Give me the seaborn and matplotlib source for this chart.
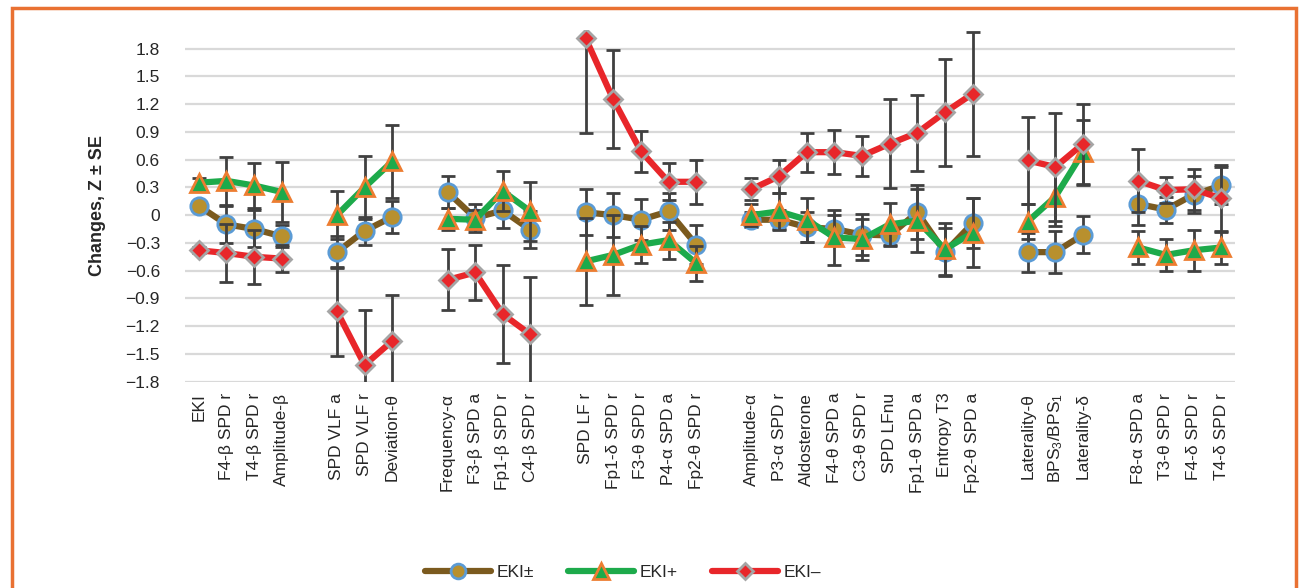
import numpy as np
import pandas as pd
import seaborn as sns
import matplotlib.pyplot as plt
from matplotlib.lines import Line2D
from matplotlib.patches import Rectangle

# ---------------- data ----------------
groups = [
    ["EKI", "F4-β SPD r", "T4-β SPD r", "Amplitude-β"],
    ["SPD VLF a", "SPD VLF r", "Deviation-θ"],
    ["Frequency-α", "F3-β SPD a", "Fp1-β SPD r", "C4-β SPD r"],
    ["SPD LF r", "Fp1-δ SPD r", "F3-θ SPD r", "P4-α SPD a", "Fp2-θ SPD r"],
    ["Amplitude-α", "P3-α SPD r", "Aldosterone", "F4-θ SPD a", "C3-θ SPD r",
     "SPD LFnu", "Fp1-θ SPD a", "Entropy T3", "Fp2-θ SPD a"],
    ["Laterality-θ", r"BPS$_3$/BPS$_1$", "Laterality-δ"],
    ["F8-α SPD a", "T3-θ SPD r", "F4-δ SPD r", "T4-δ SPD r"],
]

eki_pm = [
    [0.10, -0.10, -0.15, -0.23],
    [-0.40, -0.17, -0.02],
    [0.25, -0.03, 0.05, -0.16],
    [0.03, 0.00, -0.05, 0.04, -0.32],
    [-0.05, -0.05, -0.13, -0.15, -0.21, -0.22, 0.03, -0.40, -0.09],
    [-0.40, -0.40, -0.21],
    [0.12, 0.06, 0.22, 0.32],
]
eki_pm_se = [
    [0.05, 0.20, 0.20, 0.12],
    [0.17, 0.15, 0.17],
    [0.17, 0.15, 0.19, 0.20],
    [0.25, 0.24, 0.22, 0.20, 0.21],
    [0.08, 0.10, 0.16, 0.15, 0.22, 0.10, 0.29, 0.26, 0.27],
    [0.21, 0.23, 0.20],
    [0.23, 0.14, 0.20, 0.20],
]
eki_plus = [
    [0.35, 0.37, 0.32, 0.25],
    [0.00, 0.30, 0.58],
    [-0.04, -0.05, 0.26, 0.04],
    [-0.50, -0.43, -0.32, -0.27, -0.52],
    [0.00, 0.04, -0.05, -0.24, -0.26, -0.10, -0.06, -0.37, -0.19],
    [-0.07, 0.20, 0.68],
    [-0.35, -0.43, -0.38, -0.35],
]
eki_plus_se = [
    [0.05, 0.26, 0.24, 0.32],
    [0.26, 0.34, 0.39],
    [0.12, 0.10, 0.22, 0.32],
    [0.47, 0.43, 0.20, 0.20, 0.19],
    [0.12, 0.20, 0.24, 0.30, 0.22, 0.23, 0.34, 0.28, 0.37],
    [0.19, 0.32, 0.35],
    [0.18, 0.17, 0.22, 0.18],
]
eki_minus = [
    [-0.38, -0.41, -0.45, -0.47],
    [-1.04, -1.62, -1.36],
    [-0.70, -0.62, -1.07, -1.29],
    [1.91, 1.25, 0.69, 0.36, 0.36],
    [0.28, 0.42, 0.68, 0.68, 0.64, 0.77, 0.89, 1.11, 1.31],
    [0.59, 0.52, 0.77],
    [0.37, 0.27, 0.28, 0.18],
]
eki_minus_se = [
    [0.03, 0.31, 0.29, 0.15],
    [0.48, 0.60, 0.50],
    [0.33, 0.30, 0.53, 0.62],
    [1.02, 0.53, 0.22, 0.20, 0.24],
    [0.12, 0.18, 0.21, 0.24, 0.22, 0.48, 0.41, 0.58, 0.67],
    [0.47, 0.58, 0.43],
    [0.34, 0.14, 0.22, 0.36],
]

series_names = ["EKI±", "EKI+", "EKI–"]
series_vals = [eki_pm, eki_plus, eki_minus]
series_errs = [eki_pm_se, eki_plus_se, eki_minus_se]

# ---------------- long table ----------------
rows = []
labels = []
pos = 0
for g, cats in enumerate(groups):
    for i, cat in enumerate(cats):
        labels.append((pos, cat))
        for s in range(3):
            rows.append({"x": pos, "group": g, "series": series_names[s],
                         "value": series_vals[s][g][i], "se": series_errs[s][g][i]})
        pos += 1
    pos += 1  # empty slot between groups
df = pd.DataFrame(rows)
n_slots = pos - 1

# ---------------- style ----------------
sns.set_theme(style="white")
plt.rcParams["font.family"] = ["Liberation Sans Narrow", "Liberation Sans", "DejaVu Sans"]
plt.rcParams["mathtext.default"] = "regular"

styles = {
    "EKI±": dict(color="#7B5A1E", marker="o", mfc="#B8902E", mec="#5B9BD5", ms=12.5),
    "EKI+": dict(color="#1DAA4B", marker="^", mfc="#1DAA4B", mec="#ED7D31", ms=13),
    "EKI–": dict(color="#E8262A", marker="D", mfc="#E8262A", mec="#A5A5A5", ms=9.5),
}

fig = plt.figure(figsize=(13.05, 5.88), dpi=100)
ax = fig.add_axes([185 / 1305, 1 - 381.7 / 588, 1050 / 1305, 351.7 / 588])

for z, name in enumerate(series_names):
    st = styles[name]
    sub = df[df["series"] == name]
    ax.errorbar(sub["x"], sub["value"], yerr=sub["se"], fmt="none", ecolor="#404040",
                elinewidth=2, capsize=5, capthick=2, zorder=2 + 2 * z)
    sns.lineplot(data=sub, x="x", y="value", units="group", estimator=None, ax=ax,
                 color=st["color"], lw=4.5, marker=st["marker"], markersize=st["ms"],
                 markerfacecolor=st["mfc"], markeredgecolor=st["mec"], markeredgewidth=2,
                 zorder=3 + 2 * z, legend=False)

ax.set_xlim(-0.5, n_slots - 0.5)
ax.set_ylim(-1.8, 2.0)
yt = np.round(np.arange(-1.8, 1.81, 0.3), 1)
ax.set_yticks(yt)
ax.set_yticklabels(["0" if v == 0 else f"{v:.1f}".replace("-", "\u2212") for v in yt], fontsize=12.5)
ax.set_xticks([p for p, _ in labels])
ax.set_xticklabels([c for _, c in labels], rotation=90, fontsize=12.5, va="top", ha="center")
ax.tick_params(axis="both", length=0, pad=8)
ax.tick_params(axis="y", pad=18)
for v in yt:
    ax.axhline(v, color="#D9D9D9", lw=1.6, zorder=0)
for sp in ax.spines.values():
    sp.set_visible(False)
ax.set_xlabel("")
ax.set_ylabel("Changes, Z ± SE", fontsize=13, fontweight="bold",
              family=["Liberation Sans", "DejaVu Sans"], labelpad=14)

handles = [Line2D([], [], color=styles[n]["color"], lw=4.5, marker=styles[n]["marker"],
                  markersize=styles[n]["ms"] * 0.85, markerfacecolor=styles[n]["mfc"],
                  markeredgecolor=styles[n]["mec"], markeredgewidth=2) for n in series_names]
fig.legend(handles, series_names, loc="center", bbox_to_anchor=(623 / 1305, 1 - 572 / 588),
           ncol=3, frameon=False, fontsize=12.5, handlelength=3.8, columnspacing=2.0,
           handletextpad=0.3)

fig.patches.append(Rectangle((12 / 1305, -0.02), 1284 / 1305, 1.006, transform=fig.transFigure,
                             fill=False, edgecolor="#E97132", lw=2.5))

fig.savefig("out.png", dpi=100)
